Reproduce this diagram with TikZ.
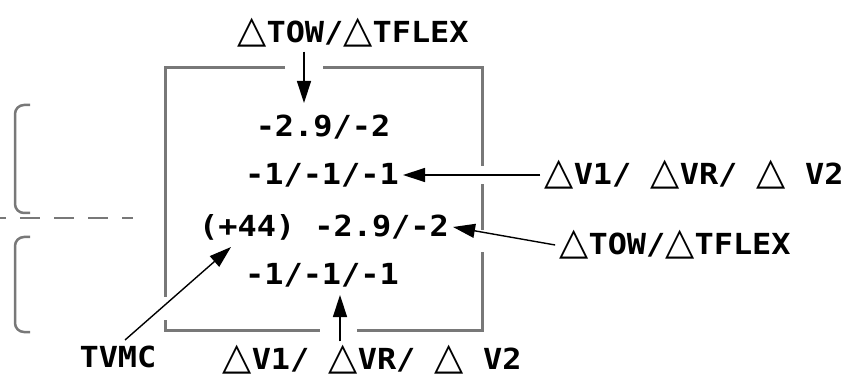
\documentclass[tikz,border=0pt]{standalone}
\usepackage{fontspec}
\usepackage{tikz}
\usetikzlibrary{arrows.meta,positioning,calc}
\newfontfamily\cadfont{DejaVu Sans Mono}[FakeStretch=1.1]
\newfontfamily\trifont{DejaVu Sans}
\newcommand{\tri}{{\mdseries\fontsize{38}{29}\selectfont\trifont △}}
\definecolor{frame}{RGB}{120,120,120}

\begin{document}
\begin{tikzpicture}[x=1pt,y=-1pt,
    lbl/.style={font=\fontsize{29}{29}\selectfont\cadfont\bfseries,inner sep=4pt},
    arr/.style={-{Triangle[length=22pt,width=14pt]},line width=1.4pt,black},
    edge/.style={frame,line width=3pt}]
    \useasboundingbox (0,0) rectangle (854,382);

    % values inside the frame
    \node[lbl] (ow)    at (323,127) {-2.9/-2};
    \node[lbl] (vlt)   at (322,175) {-1/-1/-1};
    \node[lbl] (owmc)  at (324,227) {(+44) -2.9/-2};
    \node[lbl] (vltmc) at (322,275) {-1/-1/-1};

    % labels around the frame
    \node[lbl] (dtop)   at (353,33)  {\tri{}TOW/\tri{}TFLEX};
    \node[lbl] (dvr)    at (694,175) {\tri{}V1/ \tri{}VR/ \tri{} V2};
    \node[lbl] (dtr)    at (675,245) {\tri{}TOW/\tri{}TFLEX};
    \node[lbl] (dvb)    at (372,360) {\tri{}V1/ \tri{}VR/ \tri{} V2};
    \node[lbl] (tvmc)   at (118,357) {TVMC};

    % frame, broken where the arrows pass
    \draw[edge] (285,68) -- (165,68) -- (165,297);
    \draw[edge] (165,320) -- (165,330) -- (320,330);
    \draw[edge] (357,330) -- (482,330) -- (482,252);
    \draw[edge] (482,230) -- (482,184);
    \draw[edge] (482,166) -- (482,68) -- (323,68);

    % brackets and split line
    \draw[edge,line width=2.5pt,rounded corners=9pt] (30,105) -- (15,105) -- (15,213) -- (30,213);
    \draw[edge,line width=2.5pt,rounded corners=9pt] (30,237) -- (15,237) -- (15,332) -- (30,332);
    \draw[edge,line width=2.5pt,dash pattern=on 20pt off 14pt,dash phase=14pt] (0,218) -- (133,218);

    % arrows
    \coordinate (ttip) at (304,103);
    \coordinate (btip) at (340,295);
    \coordinate (mtip) at (231,247);
    \coordinate (mtail) at (125,340);
    \draw[arr] (dtop.south -| ttip) -- (ttip);
    \draw[arr] (dvr.west) -- (vlt.east);
    \draw[arr] (dtr.west) -- (owmc.east);
    \draw[arr] (dvb.north -| btip) -- (btip);
    \draw[arr] (mtail) -- (mtip);
\end{tikzpicture}
\end{document}
